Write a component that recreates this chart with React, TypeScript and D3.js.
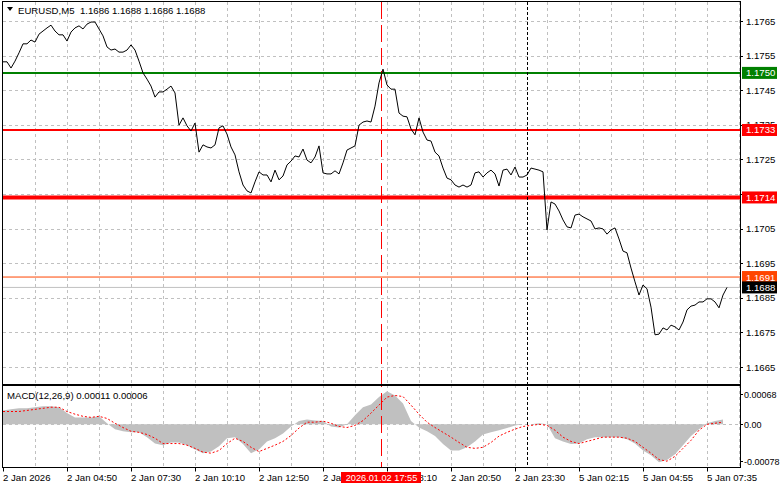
import React from "react";
import * as d3 from "d3";

// ---- data ----
// closes sampled every 2 bars (10 minutes), first sample = first bar on chart
const closes = [
  1.17532, 1.17532, 1.17514, 1.17534, 1.17558, 1.17584, 1.17584, 1.17595, 1.17589, 1.17612,
  1.17621, 1.1763, 1.17638, 1.17621, 1.1761, 1.1761, 1.17592, 1.17618, 1.1763, 1.17636,
  1.17627, 1.17641, 1.17647, 1.17647, 1.17627, 1.17607, 1.17575, 1.17566, 1.17569, 1.1756,
  1.1756, 1.17566, 1.17581, 1.17566, 1.17534, 1.175, 1.17482, 1.17462, 1.1743, 1.17445,
  1.17445, 1.17453, 1.17462, 1.17442, 1.17349, 1.1737, 1.17347, 1.17332, 1.17355, 1.17271,
  1.17292, 1.17286, 1.17283, 1.17292, 1.17341, 1.17347, 1.17323, 1.17286, 1.17263, 1.17214,
  1.17176, 1.17159, 1.17153, 1.17185, 1.17214, 1.17205, 1.17205, 1.17185, 1.17219, 1.17191,
  1.17202, 1.17234, 1.17245, 1.1726, 1.17257, 1.1728, 1.17248, 1.1724, 1.17257, 1.17289,
  1.17211, 1.17208, 1.17208, 1.17217, 1.17208, 1.1724, 1.17277, 1.17283, 1.17289, 1.17349,
  1.17358, 1.17361, 1.17358, 1.17404, 1.17471, 1.17511, 1.17465, 1.17453, 1.17453, 1.17384,
  1.17375, 1.17373, 1.17338, 1.17321, 1.1737, 1.17329, 1.17306, 1.17303, 1.17271, 1.1726,
  1.17225, 1.17196, 1.17191, 1.17176, 1.1717, 1.17176, 1.1717, 1.17176, 1.17211, 1.17214,
  1.17199, 1.17211, 1.17219, 1.17208, 1.17173, 1.17219, 1.17222, 1.17205, 1.17228, 1.17199,
  1.17199, 1.17205, 1.17225, 1.17222, 1.17219, 1.17214, 1.17046, 1.17127, 1.17121, 1.17101,
  1.17075, 1.17055, 1.17052, 1.17089, 1.17092, 1.17084, 1.17078, 1.17072, 1.17049, 1.17052,
  1.17049, 1.17034, 1.17046, 1.17052, 1.1702, 1.16985, 1.1698, 1.16936, 1.16896, 1.16858,
  1.16887, 1.16876, 1.16823, 1.16743, 1.16745, 1.16763, 1.16757, 1.16771, 1.16766, 1.16757,
  1.1678, 1.16815, 1.16826, 1.16829, 1.16838, 1.16838, 1.16847, 1.16847, 1.16838, 1.16821, 1.16858, 1.1688,
];
const closeStepBars = 2;

// MACD main (histogram) and signal, sampled every 4 bars
const macdMain = [
  0.00026, 0.00028, 0.0003, 0.0003, 0.00032, 0.00034, 0.00034, 0.00032, 0.00021, 0.00013,
  0.00013, 0.00013, 0.00015, 0.00002, -0.00009, -0.00013, -0.00015, -0.00015, -0.00024, -0.00036,
  -0.00039, -0.00034, -0.00034, -0.00039, -0.00047, -0.00054, -0.00051, -0.00041, -0.00026, -0.00024,
  -0.00037, -0.00054, -0.00047, -0.00032, -0.00026, -0.00017, -0.00004, 0.00006, 0.00009, 0.00007,
  0.00006, -0.00004, -0.00006, 0.0, 0.00017, 0.00032, 0.00037, 0.00051, 0.00062, 0.00054,
  0.00039, 0.00006, -0.00006, -0.00013, -0.00022, -0.00037, -0.00049, -0.00049, -0.00043, -0.00032,
  -0.00019, -0.00015, -0.00011, -0.00007, -0.00002, 0.0, 0.0, 0.00002, 0.0, -0.00026,
  -0.00032, -0.00037, -0.00036, -0.00028, -0.00024, -0.00024, -0.00024, -0.00024, -0.00028, -0.00036,
  -0.00049, -0.00058, -0.00071, -0.00067, -0.00056, -0.00039, -0.00022, -0.00009, 0.00002, 0.00006,
  0.00009,
];
const macdSignal = [
  0.00024, 0.00024, 0.00024, 0.00026, 0.00028, 0.0003, 0.00032, 0.00032, 0.00024, 0.00019,
  0.00015, 0.00013, 0.00015, 0.00011, 0.00002, -0.00006, -0.00013, -0.00015, -0.00019, -0.00026,
  -0.00036, -0.00036, -0.00036, -0.00039, -0.00045, -0.00052, -0.00054, -0.00049, -0.00036, -0.00026,
  -0.00032, -0.00043, -0.00051, -0.00045, -0.00039, -0.00032, -0.00021, -0.00007, 0.00004, 0.00004,
  0.00006, 0.00002, -0.00004, -0.00006, -0.00002, 0.00007, 0.00021, 0.00036, 0.00051, 0.00054,
  0.00052, 0.00036, 0.00019, 0.00004, -0.00006, -0.00015, -0.00024, -0.00034, -0.00043, -0.00045,
  -0.00043, -0.00034, -0.00022, -0.00015, -0.00009, -0.00004, -0.00002, 0.0, -0.00002, -0.00011,
  -0.00024, -0.00032, -0.00036, -0.00032, -0.00028, -0.00024, -0.00024, -0.00024, -0.00026, -0.00032,
  -0.00043, -0.00054, -0.00066, -0.00069, -0.0006, -0.00045, -0.0003, -0.00011, 0.0, 0.00002,
  0.00004,
];
const macdStepBars = 4;

const timeLabels = [
  "2 Jan 2026", "2 Jan 04:50", "2 Jan 07:30", "2 Jan 10:10", "2 Jan 12:50", "2 Jan 15:30",
  "2 Jan 18:10", "2 Jan 20:50", "2 Jan 23:30", "5 Jan 02:15", "5 Jan 04:55", "5 Jan 07:35",
];
const timeLabelStepBars = 32;
const gridStepBars = 16;

const priceTicks = [1.1665, 1.1675, 1.1685, 1.1695, 1.1705, 1.1715, 1.1725, 1.1735, 1.1745, 1.1755, 1.1765];
const priceTickLabels = ["1.1665", "1.1675", "1.1685", "1.1695", "1.1705", "1.1715", "1.1725", "1.1735", "1.1745", "1.1755", "1.1765"];

const levelValues = [1.175, 1.17335, 1.1714, 1.1691, 1.1688];
const levelLabels = ["1.1750", "1.1733", "1.1714", "1.1691", "1.1688"];

const macdTicks = [0.00068, 0, -0.00078];
const macdTickLabels = ["0.00068", "0.00", "-0.00078"];

const crosshairBar = 189;
const crosshairLabel = "2026.01.02 17:55";
const markerBar = 262;

const symbolTitle = "EURUSD,M5";
const ohlcTitle = "1.1686 1.1688 1.1686 1.1688";
const macdTitle = "MACD(12,26,9) 0.00011 0.00006";

// ---- styles ----
const levelColors = ["#008000", "#ff0000", "#ff0000", "#ff4500", "#c0c0c0"];
const levelWidths = [2, 2, 4, 1, 1];
const levelBoxColors = ["#008000", "#ff0000", "#ff0000", "#ff4500", "#000000"];
const FONT = "'Liberation Sans', Arial, sans-serif";
const GRID = "#c0c0c0";

export default function App() {
  const W = 781, H = 489;
  const left = 3, right = 740;
  const mainTop = 2, mainBottom = 385;
  const macdTop = 385, macdBottom = 467.5;
  const totalBars = (right - left) / 2;

  const x = d3.scaleLinear().domain([0, totalBars]).range([left, right]);
  const y = d3.scaleLinear().domain([1.1665, 1.1765]).range([367, 21]);
  const my = d3.scaleLinear().domain([-0.00078, 0.00068]).range([466, 388]);

  const priceLine = d3.line<number>()
    .x((_, i) => x(i * closeStepBars))
    .y((d) => y(d))(closes) as string;

  const histArea = d3.area<number>()
    .x((_, i) => x(i * macdStepBars))
    .y0(my(0))
    .y1((d) => my(d))(macdMain) as string;

  const sigLine = d3.line<number>()
    .x((_, i) => x(i * macdStepBars))
    .y((d) => my(d))(macdSignal) as string;

  const gridBars = d3.range(gridStepBars, totalBars, gridStepBars);
  const xc = Math.round(x(crosshairBar)) + 0.5;
  const xm = Math.round(x(markerBar)) + 0.5;

  return (
    <svg width={W} height={H} style={{ position: "fixed", left: 0, top: 0, background: "#fff" }}
      fontFamily={FONT} fontSize={9.6}>
      <rect x={0} y={0} width={W} height={H} fill="#fff" />
      <defs>
        <clipPath id="mainClip"><rect x={left} y={mainTop} width={right - left} height={mainBottom - mainTop} /></clipPath>
        <clipPath id="macdClip"><rect x={left} y={macdTop} width={right - left} height={macdBottom - macdTop} /></clipPath>
      </defs>

      {/* main grid */}
      <g stroke={GRID} strokeDasharray="3,3" strokeWidth={1}>
        {priceTicks.map((p) => (
          <line key={"h" + p} x1={left} x2={right} y1={Math.round(y(p)) + 0.5} y2={Math.round(y(p)) + 0.5} />
        ))}
        {gridBars.map((b) => (
          <line key={"v" + b} x1={Math.round(x(b)) + 0.5} x2={Math.round(x(b)) + 0.5} y1={mainTop} y2={mainBottom} />
        ))}
        {gridBars.map((b) => (
          <line key={"vm" + b} x1={Math.round(x(b)) + 0.5} x2={Math.round(x(b)) + 0.5} y1={macdTop} y2={macdBottom} />
        ))}
        <line x1={left} x2={right} y1={Math.round(my(0)) + 0.5} y2={Math.round(my(0)) + 0.5} />
      </g>

      {/* level lines */}
      <g clipPath="url(#mainClip)">
        {levelValues.map((v, i) => (
          <line key={"l" + i} x1={left} x2={right} y1={y(v)} y2={y(v)} stroke={levelColors[i]} strokeWidth={levelWidths[i]} />
        ))}
      </g>

      {/* MACD histogram + signal */}
      <g clipPath="url(#macdClip)">
        <path d={histArea} fill="#c0c0c0" stroke="none" />
        <path d={sigLine} fill="none" stroke="#ff0000" strokeWidth={1} strokeDasharray="2,2" />
      </g>

      {/* vertical markers */}
      <line x1={xc} x2={xc} y1={mainTop} y2={macdBottom} stroke="#ff0000" strokeWidth={1} strokeDasharray="17,6" />
      <line x1={xm} x2={xm} y1={mainTop} y2={macdBottom} stroke="#000" strokeWidth={1} strokeDasharray="3,2" />

      {/* price line */}
      <g clipPath="url(#mainClip)">
        <path d={priceLine} fill="none" stroke="#000" strokeWidth={1} />
      </g>

      {/* frames */}
      <g fill="none" stroke="#000" strokeWidth={1}>
        <rect x={left - 0.5} y={mainTop - 0.5} width={right - left + 1} height={mainBottom - mainTop} />
        <rect x={left - 0.5} y={macdTop + 0.5} width={right - left + 1} height={macdBottom - macdTop - 0.5} />
      </g>

      {/* header */}
      <path d="M7,7 L13,7 L10,11 Z" fill="#000" />
      <text x={18} y={14} fill="#000">{symbolTitle}</text>
      <text x={80} y={14} fill="#000">{ohlcTitle}</text>
      <text x={7} y={399} fill="#000">{macdTitle}</text>

      {/* right price axis */}
      <g>
        {priceTicks.map((p, i) => (
          <g key={"pt" + p}>
            <line x1={right} x2={right + 3} y1={Math.round(y(p)) + 0.5} y2={Math.round(y(p)) + 0.5} stroke="#000" />
            <text x={746} y={y(p) + 3.5} fill="#000">{priceTickLabels[i]}</text>
          </g>
        ))}
        {levelValues.map((v, i) => (
          <g key={"lb" + i}>
            <rect x={742} y={y(v) - 6} width={35} height={12} fill={levelBoxColors[i]} />
            <text x={746} y={y(v) + 3.5} fill="#fff">{levelLabels[i]}</text>
          </g>
        ))}
      </g>

      {/* right MACD axis */}
      <g fontSize={9}>
        {macdTicks.map((v, i) => {
          const ty = i === 0 ? my(v) + 6 : i === macdTicks.length - 1 ? my(v) - 5 : my(v);
          return (
            <g key={"mt" + i}>
              <line x1={right} x2={right + 3} y1={Math.round(ty) + 0.5} y2={Math.round(ty) + 0.5} stroke="#000" />
              <text x={744} y={ty + 3.5} fill="#000">{macdTickLabels[i]}</text>
            </g>
          );
        })}
      </g>

      {/* time axis */}
      <g>
        {timeLabels.map((t, i) => {
          const tx = Math.round(x(i * timeLabelStepBars)) + 0.5;
          return (
            <g key={"t" + i}>
              <line x1={tx} x2={tx} y1={macdBottom} y2={macdBottom + 4} stroke="#000" />
              <text x={tx - 0.5} y={481} fill="#000">{t}</text>
            </g>
          );
        })}
        <rect x={xc - 40.5} y={472} width={80} height={11} fill="#ff0000" />
        <text x={xc} y={481} fill="#fff" textAnchor="middle" fontSize={9.2}>{crosshairLabel}</text>
      </g>
    </svg>
  );
}
